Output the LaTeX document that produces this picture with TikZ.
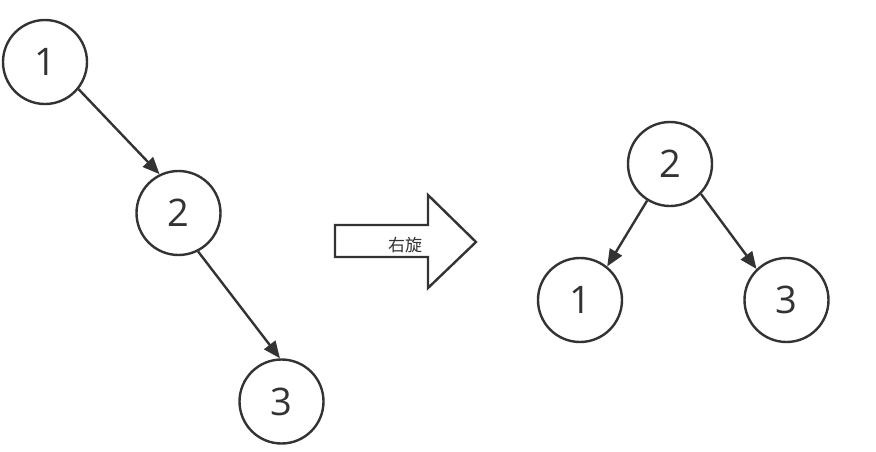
\documentclass[tikz,border=0pt]{standalone}
\usepackage{fontspec}
\setmainfont{Open Sans}
\newfontfamily\cjk{Noto Sans CJK SC}
\usetikzlibrary{arrows.meta}
\definecolor{ink}{HTML}{333333}
\begin{document}
\begin{tikzpicture}[x=1pt,y=-1pt,
  treenode/.style={circle,draw=ink,line width=2.4pt,minimum size=84pt,inner sep=0pt,font=\fontsize{38}{42}\selectfont,text=ink},
  edge/.style={draw=ink,line width=2.4pt,-{Triangle[length=17pt,width=14pt]}}]
\useasboundingbox (0,0) rectangle (876,451);
% left tree
\node[treenode] (a1) at (45,62) {1};
\node[treenode] (a2) at (178.5,213) {2};
\node[treenode] (a3) at (281.5,401.5) {3};
\draw[edge] (a1.-39.5) -- (a2.116);
\draw[edge] (a2.-63) -- (a3.92);
% big arrow
\draw[ink,line width=2.4pt,fill=white,line join=miter]
  (335,225) -- (428,225) -- (428,195) -- (476,242) -- (428,288) -- (428,257) -- (335,257) -- cycle;
\node[font=\cjk\fontsize{17}{19}\selectfont,text=ink] (lbl) at (405,245) {右旋};
% right tree
\node[treenode] (b2) at (670,164) {2};
\node[treenode] (b1) at (580,300) {1};
\node[treenode] (b3) at (786.5,300) {3};
\draw[edge] (b2.238) -- (b1.51);
\draw[edge] (b2.-44) -- (b3.134);
\end{tikzpicture}
\end{document}
